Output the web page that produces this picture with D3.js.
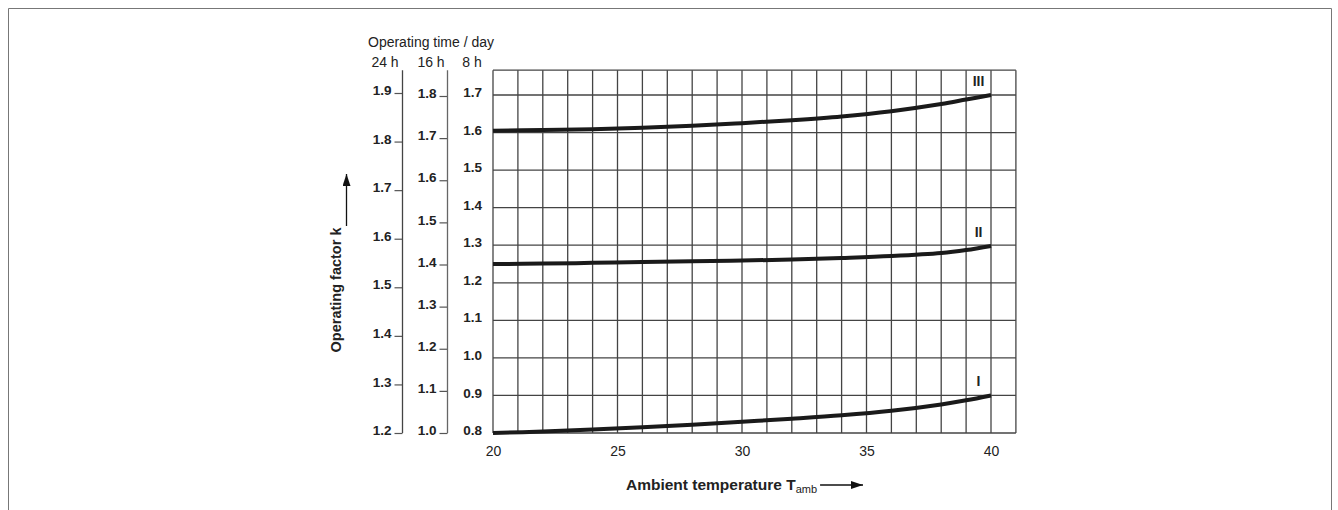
<!DOCTYPE html>
<html>
<head>
<meta charset="utf-8">
<script src="https://cdn.jsdelivr.net/npm/d3@7"></script>
<style>
  body { margin: 0; background: #fff; }
  svg { display: block; font-family: "Liberation Sans", Arial, Helvetica, sans-serif; }
</style>
</head>
<body>
<div id="viz"></div>
<script>
// ambient temperature samples
var temps = [20, 22, 24, 26, 28, 30, 32, 34, 36, 38, 39, 40];
// operating factor k (8 h scale) for curves I, II, III
var curveI = [0.800, 0.804, 0.809, 0.815, 0.822, 0.830, 0.838, 0.847, 0.859, 0.876, 0.887, 0.900];
var curveII = [1.250, 1.251, 1.253, 1.255, 1.257, 1.259, 1.262, 1.266, 1.271, 1.279, 1.287, 1.298];
var curveIII = [1.605, 1.607, 1.609, 1.613, 1.618, 1.625, 1.633, 1.643, 1.657, 1.676, 1.688, 1.700];
var curveNames = ["I", "II", "III"];

var tempTicks = [20, 25, 30, 35, 40];
var ticks8h = [0.8, 0.9, 1.0, 1.1, 1.2, 1.3, 1.4, 1.5, 1.6, 1.7];
var ticks16h = [1.0, 1.1, 1.2, 1.3, 1.4, 1.5, 1.6, 1.7, 1.8];
var ticks24h = [1.2, 1.3, 1.4, 1.5, 1.6, 1.7, 1.8, 1.9];
var headers = ["24 h", "16 h", "8 h"];

var width = 1338, height = 510;

var svg = d3.select("#viz").append("svg")
  .attr("width", width)
  .attr("height", height);

// outer frame (open at the bottom)
svg.append("path")
  .attr("d", "M8.5,510 L8.5,8.5 L1331.5,8.5 L1331.5,510")
  .attr("fill", "none")
  .attr("stroke", "#777")
  .attr("stroke-width", 1);

// scales
var x = d3.scaleLinear().domain([20, 40]).range([493, 991]);
var y8 = d3.scaleLinear().domain([0.8, 1.7]).range([433, 95]);
var y16 = d3.scaleLinear().domain([1.0, 1.8]).range([433, 96]);
var y24 = d3.scaleLinear().domain([1.2, 1.9]).range([433, 93]);
var gridTop = y8(1.766), gridRight = x(41);

// grid
var grid = svg.append("g").attr("class", "grid");
grid.selectAll("line.v")
  .data(d3.range(20, 42))
  .enter().append("line")
  .attr("class", "v")
  .attr("x1", function (d) { return x(d); })
  .attr("x2", function (d) { return x(d); })
  .attr("y1", gridTop)
  .attr("y2", y8(0.8))
  .attr("stroke", "#444")
  .attr("stroke-width", 1.3);
grid.selectAll("line.h")
  .data(ticks8h.concat([1.766]))
  .enter().append("line")
  .attr("class", "h")
  .attr("x1", x(20))
  .attr("x2", gridRight)
  .attr("y1", function (d) { return y8(d); })
  .attr("y2", function (d) { return y8(d); })
  .attr("stroke", "#444")
  .attr("stroke-width", 1.3);

// x axis labels
var xAxis = d3.axisBottom(x).tickValues(tempTicks).tickSize(0).tickPadding(13);
var gx = svg.append("g")
  .attr("transform", "translate(0," + y8(0.8) + ")")
  .call(xAxis);
gx.select(".domain").remove();
gx.selectAll("text")
  .attr("font-size", 14)
  .attr("font-family", "Liberation Sans, Arial, sans-serif")
  .attr("fill", "#222");

// 8 h axis (labels only, grid is the axis)
var g8 = svg.append("g")
  .attr("transform", "translate(" + x(20) + ",0)")
  .call(d3.axisLeft(y8).tickValues(ticks8h).tickFormat(d3.format(".1f")).tickSize(0).tickPadding(11));
g8.select(".domain").remove();

// 16 h axis
var ax16 = 447.5;
var g16 = svg.append("g")
  .attr("transform", "translate(" + ax16 + ",0)")
  .call(d3.axisLeft(y16).tickValues(ticks16h).tickFormat(d3.format(".1f")).tickSize(8).tickPadding(3));
g16.select(".domain").remove();
g16.append("line")
  .attr("y1", gridTop).attr("y2", y16(1.0))
  .attr("stroke", "#666").attr("stroke-width", 1.3);

// 24 h axis
var ax24 = 402.5;
var g24 = svg.append("g")
  .attr("transform", "translate(" + ax24 + ",0)")
  .call(d3.axisLeft(y24).tickValues(ticks24h).tickFormat(d3.format(".1f")).tickSize(8).tickPadding(3));
g24.select(".domain").remove();
g24.append("line")
  .attr("y1", gridTop).attr("y2", y24(1.2))
  .attr("stroke", "#444").attr("stroke-width", 1.3);

[g8, g16, g24].forEach(function (g) {
  g.selectAll(".tick line").attr("stroke", "#555").attr("stroke-width", 1.2);
  g.selectAll("text")
    .attr("font-size", 13.5)
    .attr("font-weight", "bold")
    .attr("font-family", "Liberation Sans, Arial, sans-serif")
    .attr("fill", "#222")
    .attr("dy", "0.12em");
});

// headers
svg.append("text")
  .attr("x", 368).attr("y", 47)
  .attr("font-size", 14)
  .attr("fill", "#222")
  .text("Operating time / day");

svg.selectAll("text.hdr")
  .data(headers)
  .enter().append("text")
  .attr("class", "hdr")
  .attr("x", function (d, i) { return [385, 431, 472][i]; })
  .attr("y", 67)
  .attr("text-anchor", "middle")
  .attr("font-size", 14)
  .attr("fill", "#222")
  .text(function (d) { return d; });

// curves
var line = d3.line()
  .x(function (d) { return x(d[0]); })
  .y(function (d) { return y8(d[1]); })
  .curve(d3.curveCatmullRom.alpha(0.5));

var curves = [curveI, curveII, curveIII];
curves.forEach(function (vals, i) {
  svg.append("path")
    .datum(temps.map(function (t, j) { return [t, vals[j]]; }))
    .attr("d", line)
    .attr("fill", "none")
    .attr("stroke", "#1a1a1a")
    .attr("stroke-width", 4);

  svg.append("text")
    .attr("x", x(39.5))
    .attr("y", y8(vals[vals.length - 1]) - 9)
    .attr("text-anchor", "middle")
    .attr("font-size", 14)
    .attr("font-weight", "bold")
    .attr("fill", "#222")
    .text(curveNames[i]);
});

// arrow marker
svg.append("defs").append("marker")
  .attr("id", "arrow")
  .attr("viewBox", "0 0 12 8")
  .attr("refX", 12).attr("refY", 4)
  .attr("markerWidth", 12).attr("markerHeight", 8)
  .attr("markerUnits", "userSpaceOnUse")
  .attr("orient", "auto")
  .append("path")
  .attr("d", "M0,0 L12,4 L0,8 Z")
  .attr("fill", "#111");

// x title
var xt = svg.append("text")
  .attr("x", 626).attr("y", 490)
  .attr("font-size", 15.5)
  .attr("font-weight", "bold")
  .attr("fill", "#222");
xt.append("tspan").text("Ambient temperature T");
xt.append("tspan").attr("font-size", 11).attr("font-weight", "normal").attr("dy", 3).text("amb");
var xtEnd = 626 + xt.node().getComputedTextLength();
svg.append("line")
  .attr("x1", xtEnd + 3).attr("x2", 863)
  .attr("y1", 485).attr("y2", 485)
  .attr("stroke", "#111").attr("stroke-width", 1.3)
  .attr("marker-end", "url(#arrow)");

// y title
svg.append("text")
  .attr("transform", "translate(341," + 290 + ") rotate(-90)")
  .attr("text-anchor", "middle")
  .attr("font-size", 14.5)
  .attr("font-weight", "bold")
  .attr("fill", "#222")
  .text("Operating factor k");
svg.append("line")
  .attr("x1", 346.5).attr("x2", 346.5)
  .attr("y1", 226).attr("y2", 174)
  .attr("stroke", "#111").attr("stroke-width", 1.3)
  .attr("marker-end", "url(#arrow)");
</script>
</body>
</html>
